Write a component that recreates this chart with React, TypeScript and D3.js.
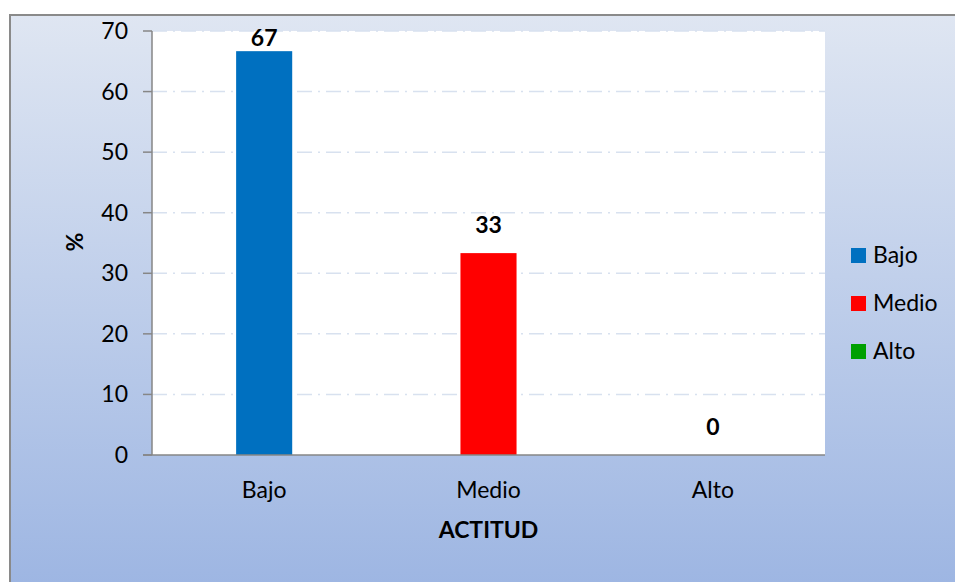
import React from "react";
import * as d3 from "d3";

const categories = ["Bajo", "Medio", "Alto"];
const values = [66.67, 33.33, 0];
const valueLabels = ["67", "33", "0"];
const colors = ["#0070C0", "#FF0000", "#00A000"];
const yTicks = [0, 10, 20, 30, 40, 50, 60, 70];

const W = 955, H = 582;
const M = { left: 152, right: 825, top: 31, bottom: 455 };
const FONT = "Lato, 'Open Sans', sans-serif";
const FS = 23;

export default function App() {
  const x = d3.scaleBand<string>().domain(categories).range([M.left, M.right]).paddingInner(0.75).paddingOuter(0.375);
  const y = d3.scaleLinear().domain([0, 70]).range([M.bottom, M.top]);
  return (
    <svg width={W} height={H} style={{ position: "absolute", left: 0, top: 0 }}>
      <defs>
        <linearGradient id="bg" x1="0" y1="0" x2="0" y2="1">
          <stop offset="0" stopColor="#dfe6f2" />
          <stop offset="1" stopColor="#9bb4e2" />
        </linearGradient>
      </defs>
      <rect x={0} y={0} width={W} height={H} fill="#fff" />
      <rect x={10} y={15} width={W + 10} height={H + 10} fill="url(#bg)" stroke="#8a8a8a" strokeWidth={2} />
      <rect x={M.left} y={M.top} width={M.right - M.left} height={M.bottom - M.top} fill="#fff" />
      {yTicks.map((t) => (
        <g key={t}>
          {t > 0 && (
            <line x1={M.left} x2={M.right} y1={y(t)} y2={y(t)} stroke="#d8e1ef" strokeWidth={1.5} strokeDasharray="15,6,2,6" />
          )}
          <line x1={M.left - 9} x2={M.left} y1={y(t)} y2={y(t)} stroke="#868686" strokeWidth={1.5} />
          <text x={M.left - 24} y={y(t)} dy="0.35em" textAnchor="end" fontFamily={FONT} fontSize={FS} fill="#000">{t}</text>
        </g>
      ))}
      {categories.map((c, i) => {
        const top = y(values[i]);
        const ly = Math.max(top - 20, M.top + 15);
        return (
          <g key={c}>
            <rect x={x(c)} y={top} width={x.bandwidth()} height={M.bottom - top} fill={colors[i]} />
            <text x={x(c)! + x.bandwidth() / 2} y={ly} textAnchor="middle" fontFamily={FONT} fontWeight="bold" fontSize={FS} fill="#000">{valueLabels[i]}</text>
            <text x={x(c)! + x.bandwidth() / 2} y={498} textAnchor="middle" fontFamily={FONT} fontSize={FS} fill="#000">{c}</text>
          </g>
        );
      })}
      <line x1={M.left} x2={M.left} y1={M.top} y2={M.bottom} stroke="#868686" strokeWidth={1.5} />
      <line x1={M.left - 9} x2={M.right} y1={M.bottom} y2={M.bottom} stroke="#868686" strokeWidth={1.5} />
      <text transform={`translate(83,242) rotate(-90)`} textAnchor="middle" fontFamily={FONT} fontWeight="bold" fontSize={FS} fill="#000">%</text>
      <text x={(M.left + M.right) / 2} y={538} textAnchor="middle" fontFamily={FONT} fontWeight="bold" fontSize={FS} fill="#000">ACTITUD</text>
      {categories.map((c, i) => (
        <g key={"lg" + c} transform={`translate(851,${255 + i * 48})`}>
          <rect x={0} y={-7} width={15} height={15} fill={colors[i]} />
          <text x={22} y={0} dy="0.35em" fontFamily={FONT} fontSize={FS} fill="#000">{c}</text>
        </g>
      ))}
    </svg>
  );
}
